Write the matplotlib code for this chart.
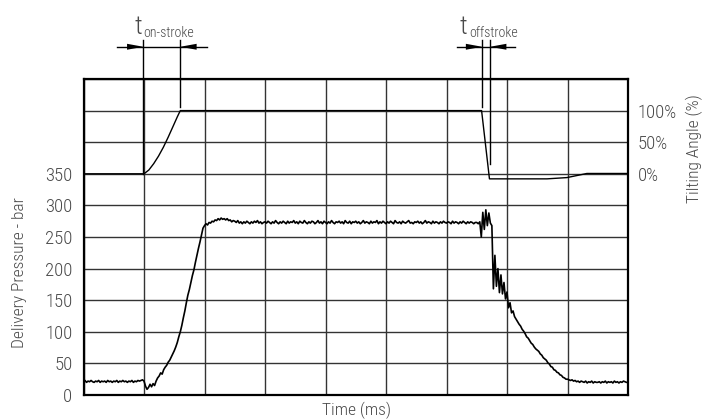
import numpy as np
import matplotlib
matplotlib.use("Agg")
import matplotlib.pyplot as plt

# ---------------- data ----------------
time_range_ms = (0, 9)
# delivery pressure (bar), sampled every 0.025 time units from 0 to 9
pressure_bar = [
    21, 23, 20, 22, 21, 23, 21, 20, 22, 21, 23, 20, 22, 21, 22, 20, 23, 21, 22, 20,
    22, 21, 23, 20, 22, 21, 23, 21, 22, 20, 22, 21, 23, 20, 22, 21, 23, 22, 23, 24,
    22, 14, 9, 12, 17, 13, 18, 15, 22, 27, 30, 35, 33, 40, 44, 47, 52, 55, 60, 65,
    70, 76, 83, 92, 100, 110, 122, 133, 146, 158, 167, 178, 189, 198, 210, 221, 232, 242, 253, 264,
    268, 271, 269, 273, 272, 275, 274, 277, 276, 279, 277, 280, 278, 279, 277, 279, 276, 277, 274, 276,
    275, 273, 276, 272, 274, 271, 274, 272, 275, 273, 271, 274, 272, 275, 273, 276, 272, 274, 271, 273,
    274, 272, 275, 273, 271, 274, 272, 276, 273, 271, 274, 272, 275, 273, 271, 275, 272, 274, 273, 276,
    272, 274, 271, 275, 273, 272, 276, 273, 271, 274, 272, 275, 274, 271, 273, 276, 272, 274, 271, 275,
    273, 271, 274, 272, 276, 273, 271, 274, 273, 275, 272, 274, 271, 276, 273, 272, 275, 271, 274, 273,
    275, 272, 274, 271, 273, 276, 272, 274, 273, 271, 275, 272, 274, 273, 276, 271, 274, 272, 275, 273,
    271, 274, 272, 275, 273, 271, 276, 273, 272, 274, 271, 275, 273, 272, 274, 276, 272, 273, 271, 274,
    273, 275, 272, 274, 271, 273, 276, 272, 274, 273, 271, 275, 272, 274, 273, 271, 274, 272, 275, 273,
    272, 274, 273, 271, 275, 272, 274, 273, 271, 274, 272, 275, 273, 271, 274, 272, 274, 273, 271, 273,
    273, 271, 274, 250, 289, 262, 293, 268, 288, 272, 268, 168, 221, 172, 200, 162, 190, 160, 178, 152,
    163, 138, 146, 130, 133, 124, 120, 116, 112, 109, 104, 101, 97, 92, 90, 86, 82, 80, 76, 73,
    71, 69, 65, 63, 59, 57, 55, 51, 49, 45, 44, 40, 39, 36, 35, 32, 31, 28, 27, 25,
    25, 24, 23, 24, 22, 23, 21, 22, 20, 22, 21, 20, 22, 19, 21, 20, 22, 19, 21, 20,
    20, 21, 19, 21, 20, 22, 19, 21, 20, 21, 19, 22, 20, 21, 19, 21, 20, 22, 21, 20,
    20,
]
# tilting angle (%)
tilt_time = [0, 1.0, 1.08, 1.16, 1.24, 1.32, 1.40, 1.48, 1.55, 1.60, 6.58, 6.71, 7.66, 7.99, 8.32, 9.0]
tilt_pct = [0, 0, 6, 16, 28, 42, 58, 75, 90, 100, 100, -8, -8, -6, 0.5, 0.5]
tilt_zero_at_bar = 350

pressure_ticks = [0, 50, 100, 150, 200, 250, 300, 350]
pressure_limit = 500
tilt_ticks = [0, 50, 100]
tilt_ticklabels = ["0%", "50%", "100%"]

on_stroke = (0.99, 1.60)
off_stroke = (6.59, 6.72)

# ---------------- style ----------------
plt.rcParams["font.family"] = ["Roboto Condensed", "Liberation Sans Narrow", "Lato", "DejaVu Sans"]
plt.rcParams["font.weight"] = "light"
text_color = "#4a4a4a"

fig = plt.figure(figsize=(7.09, 4.19), dpi=100)
ax = fig.add_axes([83.5 / 709, 24 / 419, (628 - 83.5) / 709, (395 - 79) / 419])

t = np.linspace(time_range_ms[0], time_range_ms[1], len(pressure_bar))
ax.plot(t, pressure_bar, color="black", lw=1.2, zorder=3)

ax.set_xlim(*time_range_ms)
ax.set_ylim(0, pressure_limit)
ax.set_xticks(np.arange(time_range_ms[0], time_range_ms[1] + 1))
ax.set_yticks(np.arange(0, pressure_limit + 1, 50))
ax.set_yticklabels([str(v) if v in pressure_ticks else "" for v in range(0, pressure_limit + 1, 50)])
ax.set_xticklabels([])
ax.tick_params(length=0, labelsize=13.5, labelcolor=text_color, pad=8)
ax.grid(True, color="#333333", lw=1.0)
for s in ax.spines.values():
    s.set_linewidth(1.6)
    s.set_color("black")

ax2 = ax.twinx()
ax2.set_ylim(0 - tilt_zero_at_bar, pressure_limit - tilt_zero_at_bar)
ax2.plot(tilt_time, tilt_pct, color="black", lw=1.0, zorder=3)
ax2.set_yticks(tilt_ticks)
ax2.set_yticklabels(tilt_ticklabels)
ax2.tick_params(length=0, labelsize=13.5, labelcolor=text_color, pad=7)
for s in ax2.spines.values():
    s.set_visible(False)

fig.text(20 / 709, 1 - 273 / 419, "Delivery Pressure - bar", rotation=90, ha="center", va="center",
         fontsize=12.5, color=text_color)
fig.text(694 / 709, 1 - 149 / 419, "Tilting Angle (%)", rotation=90, ha="center", va="center",
         fontsize=12.5, color=text_color)
fig.text(357 / 709, 1 - 410 / 419, "Time (ms)", ha="center", va="center",
         fontsize=12.5, color=text_color)

# ---------------- annotations ----------------
y_top = 562
y_bar = 551
arrow_len = 0.27
arrow_half = 4.7


def span(ax, x0, x1, bottom0, bottom1, ext_left, ext_right, label, tx, sx):
    kw = dict(color="black", lw=1.0, clip_on=False, zorder=4)
    ax.plot([x0, x0], [bottom0, y_top], **kw)
    ax.plot([x1, x1], [bottom1, y_top], **kw)
    ax.plot([ext_left, ext_right], [y_bar, y_bar], **kw)
    ax.fill([x0, x0 - arrow_len, x0 - arrow_len], [y_bar, y_bar + arrow_half, y_bar - arrow_half],
            color="black", clip_on=False, zorder=4, lw=0)
    ax.fill([x1, x1 + arrow_len, x1 + arrow_len], [y_bar, y_bar + arrow_half, y_bar - arrow_half],
            color="black", clip_on=False, zorder=4, lw=0)
    ax.text(tx, 571, "t", fontsize=19, color=text_color, ha="left", va="baseline", clip_on=False)
    ax.text(sx, 566, label, fontsize=10, color=text_color, ha="left", va="baseline", clip_on=False)


span(ax, on_stroke[0], on_stroke[1], 350, 455, 0.55, 2.04, "on-stroke", 0.85, 0.99)
span(ax, off_stroke[0], off_stroke[1], 455, 366, 6.17, 7.14, "offstroke", 6.22, 6.37)

fig.savefig("out.png", dpi=100)
